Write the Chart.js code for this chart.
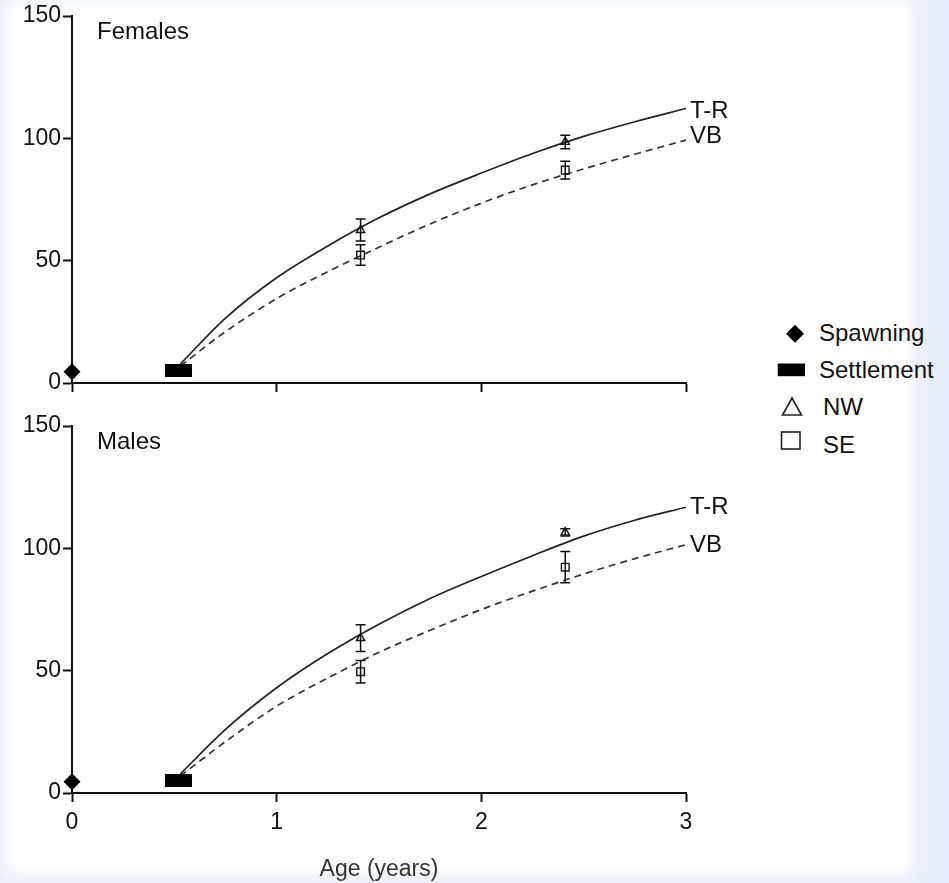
<!DOCTYPE html>
<html>
<head>
<meta charset="utf-8">
<title>Growth curves by sex</title>
<script src="https://cdn.jsdelivr.net/npm/chart.js@4.4.1/dist/chart.umd.min.js"></script>
<style>
  body {
    margin: 0;
    width: 949px;
    height: 883px;
    overflow: hidden;
    position: relative;
    background: #e8eef7;
    font-family: "Liberation Sans", Arial, sans-serif;
    color: #111;
  }
  #sheet {
    position: absolute;
    left: 14px; top: 10px;
    width: 894px; height: 856px;
    background: #fff;
    box-shadow: 0 0 14px 9px #fff;
  }
  #haze {
    position: absolute; left: 906px; top: 0; width: 43px; height: 883px;
    background: linear-gradient(to right, rgba(232,238,247,0), rgba(232,238,247,0.9) 45%, rgba(232,238,247,1));
  }
  canvas { position: absolute; left: 0; }
  #top { top: 0; }
  #bottom { top: 400px; }
  .key { position: absolute; font-size: 24px; line-height: 28px; white-space: nowrap; }
  #icons { position: absolute; left: 770px; top: 320px; }
</style>
</head>
<body>
<div id="sheet"></div>
<div id="haze"></div>
<canvas id="top" width="760" height="400"></canvas>
<canvas id="bottom" width="760" height="483"></canvas>

<!-- legend shared by both panels -->
<svg id="icons" width="50" height="140">
  <polygon points="25,4.7 34,13.7 25,22.7 16,13.7" fill="#000"/>
  <rect x="7.7" y="43.5" width="27.3" height="12.7" fill="#000"/>
  <polygon points="22,78 31.5,95 12.5,95" fill="none" stroke="#222" stroke-width="1.6"/>
  <rect x="11.5" y="112" width="18.5" height="17" fill="none" stroke="#222" stroke-width="1.6"/>
</svg>
<div class="key" style="left:819px; top:319px;">Spawning</div>
<div class="key" style="left:819px; top:356px;">Settlement</div>
<div class="key" style="left:823px; top:393px;">NW</div>
<div class="key" style="left:823px; top:431px;">SE</div>

<script>
// fitted growth curves, length at age
const curveAges = [0.53, 0.75, 1, 1.25, 1.5, 1.75, 2, 2.25, 2.5, 2.75, 3];
const femaleTR = [7.8, 26.5, 43, 56, 67.5, 77.3, 85.8, 93.8, 100.8, 106.8, 112.2];
const femaleVB = [7, 21, 34.5, 45.5, 55.5, 65, 73.5, 81, 87.5, 93.5, 99.3];
const maleTR = [7.8, 26, 43, 57, 69, 79.5, 88.5, 97, 105, 111.5, 116.8];
const maleVB = [7, 21, 35.5, 47, 57.5, 66.5, 75, 82.5, 89.5, 95.8, 101.5];

// sampled means +/- error by region
const sampleAges = [1.41, 2.41];
const femaleNW = [62.5, 98.5];
const femaleNWErr = [4.5, 2.8];
const femaleSE = [52.3, 87];
const femaleSEErr = [4.2, 3.6];
const maleNW = [63.3, 106.5];
const maleNWErr = [5.5, 1.5];
const maleSE = [49.6, 92.3];
const maleSEErr = [4.6, 6.4];

// early life stages
const spawningAge = [0];
const spawningSize = [4.6];
const settlementAge = [0.52];
const settlementSize = [5];

const xTicks = [0, 1, 2, 3];
const yTicks = [0, 50, 100, 150];

const FONT = '"Liberation Sans", Arial, sans-serif';
const INK = '#111';

const toPoints = (xs, ys) => xs.map((x, i) => ({ x: x, y: ys[i] }));

// settlement marker is a wide black bar
const settleMark = document.createElement('canvas');
settleMark.width = 27;
settleMark.height = 13;
settleMark.getContext('2d').fillRect(0, 0, 27, 13);

// error bars, curve end labels and panel title
const panelExtras = {
  id: 'panelExtras',
  afterDatasetsDraw(chart, args, opts) {
    const { ctx, chartArea } = chart;
    const x = chart.scales.x, y = chart.scales.y;
    ctx.save();
    ctx.strokeStyle = INK;
    ctx.lineWidth = 1.5;
    chart.data.datasets.forEach(ds => {
      if (!ds.errors) return;
      ds.data.forEach((p, i) => {
        const px = x.getPixelForValue(p.x);
        const lo = y.getPixelForValue(p.y - ds.errors[i]);
        const hi = y.getPixelForValue(p.y + ds.errors[i]);
        ctx.beginPath();
        ctx.moveTo(px, lo); ctx.lineTo(px, hi);
        ctx.moveTo(px - 5, lo); ctx.lineTo(px + 5, lo);
        ctx.moveTo(px - 5, hi); ctx.lineTo(px + 5, hi);
        ctx.stroke();
      });
    });

    ctx.fillStyle = INK;
    ctx.font = '24px ' + FONT;
    ctx.textBaseline = 'middle';
    chart.data.datasets.forEach(ds => {
      if (!ds.endLabel) return;
      const last = ds.data[ds.data.length - 1];
      ctx.fillText(ds.endLabel, x.getPixelForValue(last.x) + 4, y.getPixelForValue(last.y) + (ds.endShift || 0));
    });

    ctx.fillText(opts.title, chartArea.left + 25, chartArea.top + 16);
    ctx.restore();
  }
};

function makePanel(id, title, tr, vb, nw, nwErr, se, seErr, bottomPanel) {
  const ctx = document.getElementById(id);
  return new Chart(ctx, {
    type: 'line',
    data: {
      datasets: [
        {
          label: 'Spawning',
          data: toPoints(spawningAge, spawningSize),
          showLine: false,
          pointStyle: 'rectRot',
          pointRadius: 8.5,
          backgroundColor: '#000',
          borderColor: '#000',
          borderWidth: 0,
          clip: false
        },
        {
          label: 'Settlement',
          data: toPoints(settlementAge, settlementSize),
          showLine: false,
          pointStyle: settleMark,
          clip: false
        },
        {
          label: 'NW',
          data: toPoints(sampleAges, nw),
          errors: nwErr,
          showLine: false,
          pointStyle: 'triangle',
          pointRadius: 4.8,
          borderColor: INK,
          borderWidth: 1.4,
          backgroundColor: 'rgba(0,0,0,0)'
        },
        {
          label: 'SE',
          data: toPoints(sampleAges, se),
          errors: seErr,
          showLine: false,
          pointStyle: 'rect',
          pointRadius: 5.4,
          borderColor: INK,
          borderWidth: 1.4,
          backgroundColor: 'rgba(0,0,0,0)'
        },
        {
          label: 'T-R',
          endLabel: 'T-R',
          endShift: bottomPanel ? 0 : 3,
          data: toPoints(curveAges, tr),
          borderColor: '#222',
          borderWidth: 1.7,
          pointRadius: 0,
          cubicInterpolationMode: 'monotone',
          fill: false
        },
        {
          label: 'VB',
          endLabel: 'VB',
          endShift: bottomPanel ? 1 : -4,
          data: toPoints(curveAges, vb),
          borderColor: '#333',
          borderWidth: 1.7,
          borderDash: [7, 5],
          pointRadius: 0,
          cubicInterpolationMode: 'monotone',
          fill: false
        }
      ]
    },
    options: {
      responsive: false,
      animation: false,
      devicePixelRatio: 1,
      events: [],
      layout: { padding: { top: bottomPanel ? 26 : 16, right: 74, left: 0, bottom: 0 } },
      plugins: {
        legend: { display: false },
        tooltip: { enabled: false },
        panelExtras: { title: title }
      },
      scales: {
        x: {
          type: 'linear',
          min: 0,
          max: 3,
          afterBuildTicks: s => { s.ticks = xTicks.map(v => ({ value: v })); },
          afterFit: s => { s.height = bottomPanel ? 90 : 17; },
          border: { display: true, color: INK, width: 2 },
          grid: { drawOnChartArea: false, drawTicks: true, tickLength: 9, tickColor: INK, tickWidth: 2 },
          ticks: {
            display: bottomPanel,
            padding: 7,
            maxRotation: 0,
            color: INK,
            font: { family: FONT, size: 23 }
          },
          title: {
            display: bottomPanel,
            text: 'Age (years)',
            color: '#333',
            padding: { top: 0, bottom: 0 },
            font: { family: FONT, size: 23 }
          }
        },
        y: {
          min: 0,
          max: 150,
          afterBuildTicks: s => { s.ticks = yTicks.map(v => ({ value: v })); },
          afterFit: s => { s.width = 72; },
          border: { display: true, color: INK, width: 2 },
          grid: { drawOnChartArea: false, drawTicks: true, tickLength: 9, tickColor: INK, tickWidth: 2 },
          ticks: {
            padding: 2,
            color: INK,
            font: { family: FONT, size: 23 }
          }
        }
      }
    },
    plugins: [panelExtras]
  });
}

makePanel('top', 'Females', femaleTR, femaleVB, femaleNW, femaleNWErr, femaleSE, femaleSEErr, false);
makePanel('bottom', 'Males', maleTR, maleVB, maleNW, maleNWErr, maleSE, maleSEErr, true);
</script>
</body>
</html>
